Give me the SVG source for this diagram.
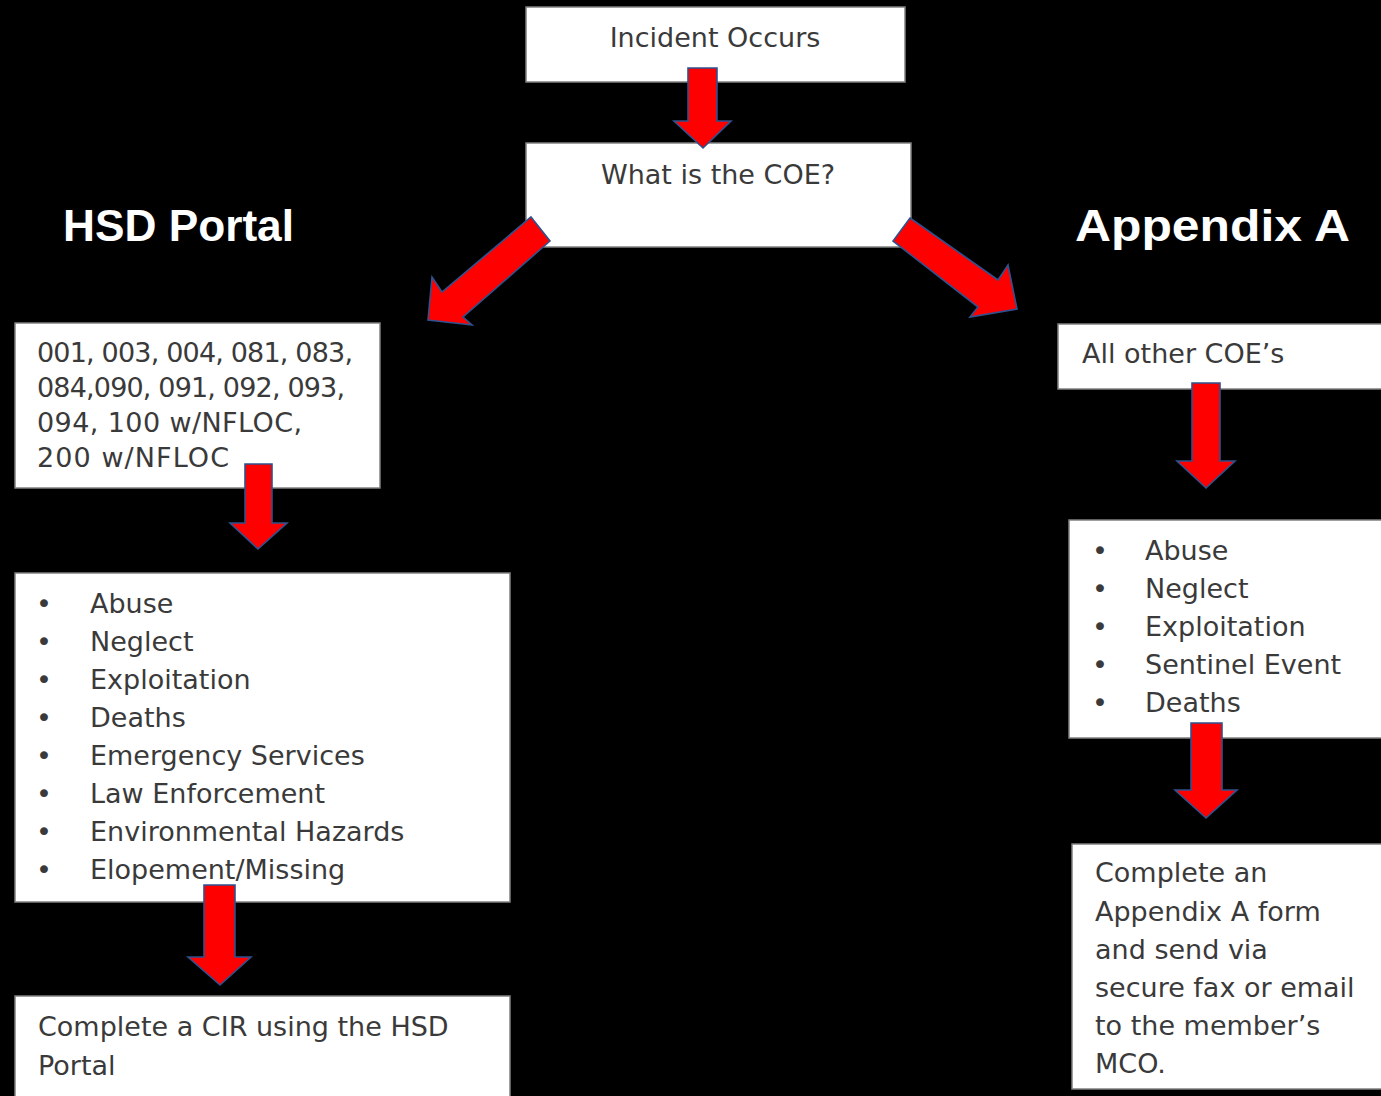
<svg xmlns="http://www.w3.org/2000/svg" width="1381" height="1096" viewBox="0 0 1381 1096">
<style>
.box{fill:#ffffff;stroke:#808080;stroke-width:1.5}
.t{font-family:"DejaVu Sans","Liberation Sans",sans-serif;font-size:27px;fill:#3a3a3a}
.h{font-family:"Liberation Sans","DejaVu Sans",sans-serif;font-weight:bold;font-size:45px;fill:#ffffff}
.arr{fill:#ff0000;stroke:#2f528f;stroke-width:1.6;stroke-linejoin:miter}
</style>
<rect x="0" y="0" width="1381" height="1096" fill="#000000"/>
<g id="title-hsd"><text class="h" x="63" y="241" textLength="231" lengthAdjust="spacingAndGlyphs">HSD Portal</text></g>
<g id="title-appendix"><text class="h" x="1075" y="241" textLength="275" lengthAdjust="spacingAndGlyphs">Appendix A</text></g>
<g id="n-incident"><rect class="box" x="526" y="7" width="379" height="75"/><text class="t" x="715" y="47" text-anchor="middle">Incident Occurs</text></g>
<g id="n-coe"><rect class="box" x="526" y="143" width="385" height="104"/><text class="t" x="718" y="184" text-anchor="middle">What is the COE?</text></g>
<g id="n-codes"><rect class="box" x="15" y="323" width="365" height="165"/>
<text class="t" x="37" y="362" textLength="316">001, 003, 004, 081, 083,</text>
<text class="t" x="37" y="397" textLength="308">084,090, 091, 092, 093,</text>
<text class="t" x="37" y="432" textLength="265">094, 100 w/NFLOC,</text>
<text class="t" x="37" y="467" textLength="192">200 w/NFLOC</text></g>
<g id="n-left-list"><rect class="box" x="15" y="573" width="495" height="329"/>
<g class="t"><text x="36" y="613">•</text><text x="36" y="651">•</text><text x="36" y="689">•</text><text x="36" y="727">•</text><text x="36" y="765">•</text><text x="36" y="803">•</text><text x="36" y="841">•</text><text x="36" y="879">•</text></g>
<text class="t" x="90" y="613">Abuse</text>
<text class="t" x="90" y="651">Neglect</text>
<text class="t" x="90" y="689">Exploitation</text>
<text class="t" x="90" y="727">Deaths</text>
<text class="t" x="90" y="765">Emergency Services</text>
<text class="t" x="90" y="803">Law Enforcement</text>
<text class="t" x="90" y="841">Environmental Hazards</text>
<text class="t" x="90" y="879">Elopement/Missing</text></g>
<g id="n-cir"><rect class="box" x="15" y="996" width="495" height="110"/>
<text class="t" x="38" y="1036">Complete a CIR using the HSD</text>
<text class="t" x="38" y="1075">Portal</text></g>
<g id="n-other"><rect class="box" x="1058" y="324" width="330" height="65"/><text class="t" x="1082" y="363">All other COE’s</text></g>
<g id="n-right-list"><rect class="box" x="1069" y="520" width="320" height="218"/>
<g class="t"><text x="1092" y="560">•</text><text x="1092" y="598">•</text><text x="1092" y="636">•</text><text x="1092" y="674">•</text><text x="1092" y="712">•</text></g>
<text class="t" x="1145" y="560">Abuse</text>
<text class="t" x="1145" y="598">Neglect</text>
<text class="t" x="1145" y="636">Exploitation</text>
<text class="t" x="1145" y="674">Sentinel Event</text>
<text class="t" x="1145" y="712">Deaths</text></g>
<g id="n-appendix-form"><rect class="box" x="1072" y="844" width="320" height="245"/>
<text class="t" x="1095" y="882">Complete an</text>
<text class="t" x="1095" y="921">Appendix A form</text>
<text class="t" x="1095" y="959">and send via</text>
<text class="t" x="1095" y="997">secure fax or email</text>
<text class="t" x="1095" y="1035">to the member’s</text>
<text class="t" x="1095" y="1073">MCO.</text></g>
<g id="connectors">
<polygon class="arr" points="688,68 717,68 717,121 731,121 703,148 674,121 688,121"/>
<polygon class="arr" points="531,217 550,241 463,317 472,325 428,320 432,277 442,292"/>
<polygon class="arr" points="910,218 998,280 1008,265 1017,309 970,317 978,307 893,241"/>
<polygon class="arr" points="245,464 272,464 272,523 287,523 258,549 230,523 245,523"/>
<polygon class="arr" points="204,885 235,885 235,957 251,957 220,985 188,957 204,957"/>
<polygon class="arr" points="1192,383 1220,383 1220,461 1235,461 1206,488 1177,461 1192,461"/>
<polygon class="arr" points="1191,723 1222,723 1222,790 1237,790 1206,818 1175,790 1191,790"/>
</g>
</svg>
